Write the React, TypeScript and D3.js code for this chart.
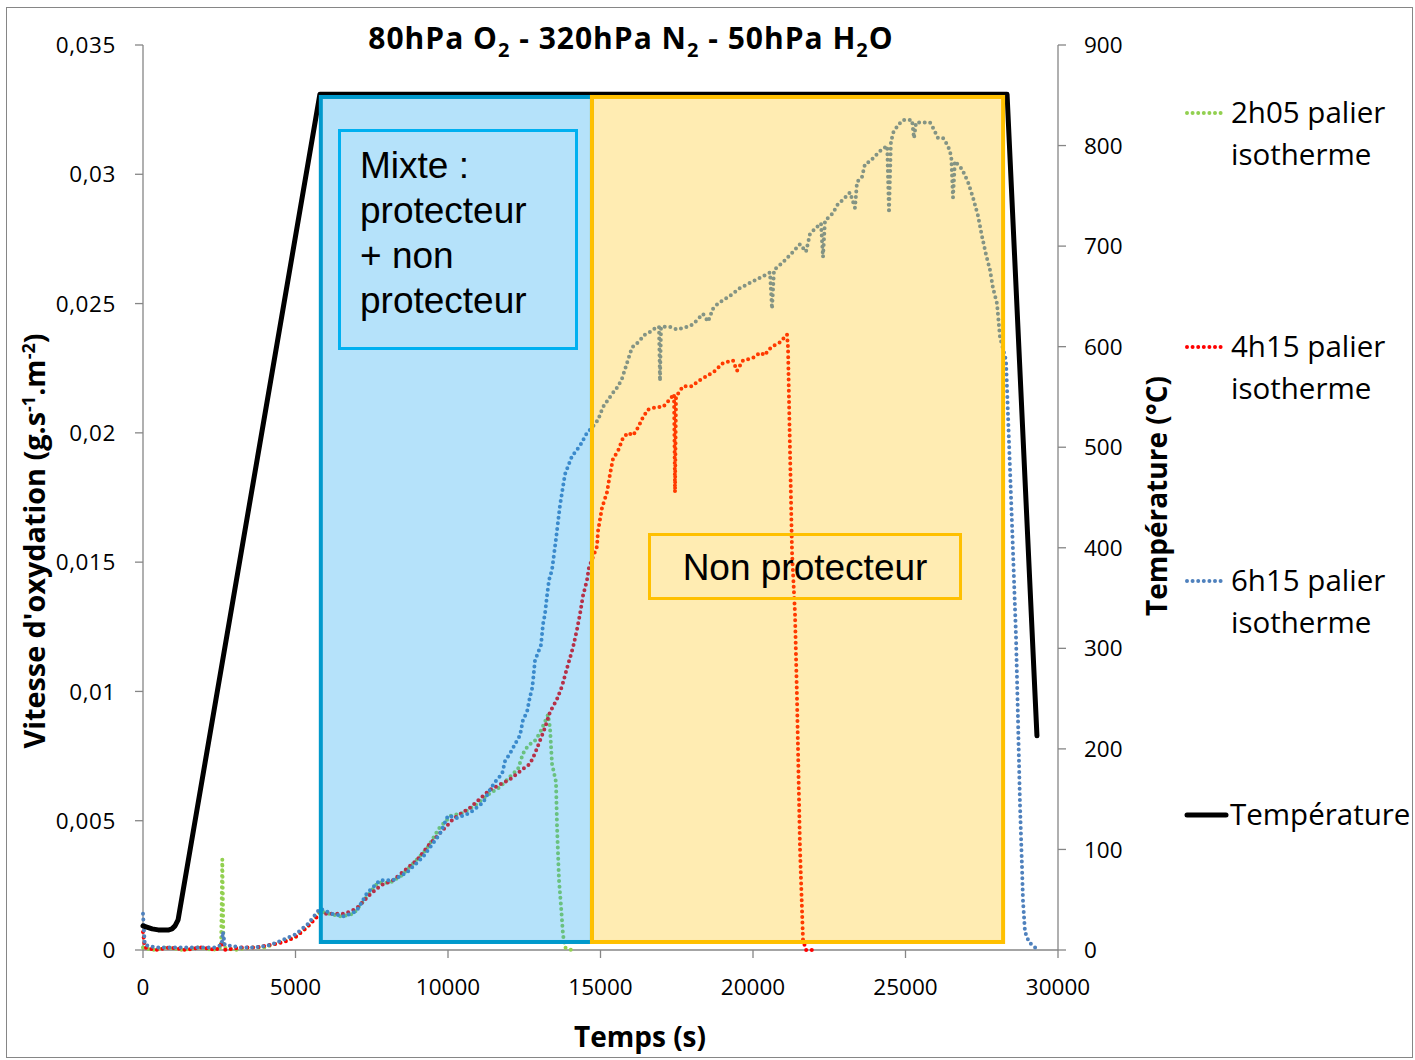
import React from 'react';
import * as d3 from 'd3';

// ---------- data ----------
const xTicks = [0, 5000, 10000, 15000, 20000, 25000, 30000];
const yLeftTicks = [0, 0.005, 0.01, 0.015, 0.02, 0.025, 0.03, 0.035];
const yRightTicks = [0, 100, 200, 300, 400, 500, 600, 700, 800, 900];

// temperature (s, °C)
const temperature: [number, number][] = [
  [0, 24], [300, 21], [500, 20], [850, 20], [950, 21], [1050, 24], [1150, 30],
  [5800, 851], [28330, 851], [29310, 213],
];

// 2h05 palier isotherme (s, g.s-1.m-2)
const serie2h05: [number, number][] = [
  [0, 0.0001], [300, 0], [800, 0.0001], [1300, 0], [1800, 0.0001], [2300, 0], [2560, 0.0001],
  [2600, 0.0035], [2640, 0.0001], [3000, 0], [3500, 0.0001], [4000, 0.0001], [4500, 0.0003],
  [5000, 0.0005], [5400, 0.0009], [5800, 0.0015], [6100, 0.0014], [6500, 0.0013], [6900, 0.0014],
  [7300, 0.002], [7700, 0.0026], [8100, 0.0026], [8500, 0.0029], [8900, 0.0034], [9300, 0.0039],
  [9700, 0.0047], [10100, 0.0052], [10500, 0.0053], [10900, 0.0056], [11300, 0.006], [11700, 0.0063],
  [12033, 0.0067], [12295, 0.007], [12459, 0.0076], [12623, 0.0079], [12852, 0.0081], [13016, 0.0084],
  [13279, 0.0091], [13344, 0.0086], [13410, 0.0072], [13541, 0.0065], [13574, 0.0048], [13639, 0.0027],
  [13705, 0.0017], [13770, 0.0006], [13836, 0.0001], [14050, 0],
];

// 4h15 palier isotherme
const serie4h15: [number, number][] = [
  [0, 0.0007], [60, 0.0001], [400, 0], [900, 0.0001], [1400, 0], [1900, 0.0001], [2400, 0],
  [2620, 0.0003], [2700, 0], [3200, 0.0001], [3700, 0.0001], [4200, 0.0002], [4600, 0.0003],
  [5000, 0.0005], [5400, 0.0009], [5800, 0.0014], [6200, 0.0014], [6600, 0.0014], [7000, 0.0016],
  [7400, 0.0021], [7800, 0.0025], [8200, 0.0027], [8600, 0.0031], [9000, 0.0035], [9400, 0.0041],
  [9800, 0.0046], [10200, 0.0051], [10721, 0.0055], [11377, 0.0062], [12033, 0.0066], [12459, 0.007],
  [12689, 0.0072], [12852, 0.0076], [13016, 0.0081], [13180, 0.0086], [13344, 0.0092], [13574, 0.0097],
  [13738, 0.0102], [13902, 0.0109], [14098, 0.0117], [14230, 0.0124], [14328, 0.013], [14426, 0.0137],
  [14557, 0.0143], [14623, 0.0148], [14885, 0.0156], [14918, 0.0162], [15049, 0.0171], [15213, 0.0177],
  [15311, 0.0184], [15410, 0.019], [15574, 0.0193], [15738, 0.0198], [15902, 0.02], [16066, 0.0199],
  [16230, 0.0202], [16393, 0.0206], [16557, 0.0209], [16852, 0.021], [17049, 0.021], [17279, 0.0213],
  [17410, 0.0215], [17443, 0.0177], [17476, 0.0214], [17705, 0.0218], [18000, 0.0218], [18197, 0.022],
  [18492, 0.0222], [18754, 0.0224], [19016, 0.0227], [19344, 0.0228], [19475, 0.0224], [19672, 0.0228],
  [20000, 0.0229], [20230, 0.0231], [20393, 0.023], [20492, 0.0232], [20721, 0.0234], [20885, 0.0235],
  [21115, 0.0238], [21148, 0.0233], [21180, 0.0213], [21213, 0.0193], [21246, 0.0174], [21279, 0.0154],
  [21377, 0.013], [21443, 0.0097], [21541, 0.0039], [21639, 0.0004], [21738, 0], [22050, 0],
];

// 6h15 palier isotherme
const serie6h15: [number, number][] = [
  [0, 0.0014], [60, 0.0002], [400, 0.0001], [900, 0.0001], [1400, 0.0001], [1900, 0.0001], [2400, 0.0001],
  [2580, 0.0002], [2620, 0.0007], [2680, 0.0002], [3200, 0.0001], [3700, 0.0001], [4200, 0.0002],
  [4600, 0.0004], [5000, 0.0006], [5400, 0.001], [5803, 0.0016], [6200, 0.0014], [6600, 0.0013],
  [7000, 0.0015], [7344, 0.0022], [7770, 0.0027], [8197, 0.0027], [8656, 0.003], [9180, 0.0036],
  [9738, 0.0045], [10000, 0.0052], [10295, 0.0051], [10721, 0.0053], [11148, 0.0057], [11377, 0.0062],
  [11607, 0.0066], [11770, 0.0068], [11869, 0.0073], [12033, 0.0076], [12262, 0.0081], [12361, 0.0083],
  [12459, 0.0089], [12590, 0.0092], [12689, 0.0098], [12754, 0.0101], [12787, 0.0104], [12852, 0.0112],
  [12951, 0.0115], [13049, 0.0118], [13115, 0.0126], [13180, 0.013], [13246, 0.0137], [13311, 0.0143],
  [13410, 0.0147], [13443, 0.015], [13541, 0.0159], [13672, 0.0172], [13836, 0.0184], [14066, 0.0191],
  [14328, 0.0195], [14557, 0.02], [14721, 0.0202], [14918, 0.0205], [15082, 0.021], [15377, 0.0215],
  [15574, 0.0218], [15705, 0.0221], [15869, 0.0227], [16033, 0.0233], [16230, 0.0235], [16459, 0.0238],
  [16623, 0.0239], [16852, 0.0241], [16918, 0.0241], [16951, 0.022], [16984, 0.0241], [17279, 0.0241],
  [17508, 0.024], [17836, 0.0241], [18033, 0.0242], [18197, 0.0244], [18361, 0.0246], [18525, 0.0243],
  [18689, 0.0248], [18852, 0.025], [19246, 0.0253], [19574, 0.0256], [19902, 0.0258], [20230, 0.026],
  [20557, 0.0262], [20623, 0.0248], [20689, 0.0263], [20984, 0.0266], [21311, 0.027], [21541, 0.0273],
  [21738, 0.027], [21869, 0.0277], [22131, 0.028], [22230, 0.0281], [22295, 0.0268], [22360, 0.0282],
  [22623, 0.0285], [22754, 0.0288], [23016, 0.0291], [23180, 0.0293], [23344, 0.0287], [23410, 0.0297],
  [23574, 0.0299], [23672, 0.0304], [23836, 0.0305], [24000, 0.0307], [24164, 0.0309], [24400, 0.0311],
  [24459, 0.0285], [24520, 0.0312], [24590, 0.0316], [24754, 0.0319], [24918, 0.0321], [25148, 0.0321],
  [25213, 0.0321], [25279, 0.0314], [25345, 0.032], [25639, 0.032], [25803, 0.032], [25902, 0.0318],
  [26066, 0.0314], [26230, 0.0314], [26393, 0.0311], [26500, 0.0307], [26557, 0.0291], [26620, 0.0305],
  [26852, 0.0302], [27049, 0.0297], [27213, 0.0291], [27377, 0.0284], [27508, 0.0276], [27639, 0.0269],
  [27770, 0.0263], [27869, 0.0256], [28000, 0.025], [28098, 0.0237], [28295, 0.0228], [28426, 0.0186],
  [28525, 0.0154], [28623, 0.0121], [28689, 0.0089], [28754, 0.0056], [28820, 0.0032], [28852, 0.0019],
  [28918, 0.0007], [29049, 0.0003], [29344, 0],
];

// shaded regimes (time bounds in s, rate bounds)
const regionMixte = { t0: 5830, t1: 14720 };
const regionNonProt = { t0: 14720, t1: 28200 };
const regionRate = { v0: 0.00031, v1: 0.03299 };

const seriesList = [
  { name: '2h05 palier', name2: 'isotherme', data: serie2h05, color: '#92d050' },
  { name: '4h15 palier', name2: 'isotherme', data: serie4h15, color: '#ff0000' },
  { name: '6h15 palier', name2: 'isotherme', data: serie6h15, color: '#4f81bd' },
];

// ---------- chart ----------
const W = 1415, H = 1060;
const AXIS = '#868686';
const TICK_FONT = "'Open Sans', sans-serif";
const BOLD_FONT = "'Open Sans', sans-serif";

export default function App() {
  const x = d3.scaleLinear().domain([0, 30000]).range([143, 1058]);
  const yL = d3.scaleLinear().domain([0, 0.035]).range([950, 45]);
  const yR = d3.scaleLinear().domain([0, 900]).range([950, 45]);

  const rateLine = d3.line<[number, number]>().x(d => x(d[0])).y(d => yL(d[1]));
  const tempLine = d3.line<[number, number]>().x(d => x(d[0])).y(d => yR(d[1]));

  const fmt = (v: number) => String(+v.toFixed(3)).replace('.', ',');

  const dot = { strokeWidth: 4, strokeDasharray: '0 5.6', strokeLinecap: 'round' as const, fill: 'none' };

  return (
    <svg width={W} height={H} style={{ position: 'absolute', left: 0, top: 0, background: '#fff' }}>
      <rect x={6.5} y={7.5} width={1406} height={1050} fill="#fff" stroke={AXIS} strokeWidth={1} />

      {/* axes */}
      <line x1={143} y1={yL(0.035)} x2={143} y2={950} stroke={AXIS} strokeWidth={1.3} />
      <line x1={1058} y1={yR(900)} x2={1058} y2={950} stroke={AXIS} strokeWidth={1.3} />
      <line x1={143} y1={950} x2={1058} y2={950} stroke={AXIS} strokeWidth={1.3} />
      {yLeftTicks.map(t => (
        <g key={'yl' + t}>
          <line x1={135} x2={143} y1={yL(t)} y2={yL(t)} stroke={AXIS} strokeWidth={1.3} />
          <text x={116} y={yL(t)} dy="0.36em" textAnchor="end" fontFamily={TICK_FONT} fontSize={22.5} letterSpacing={0.6} fill="#000">{fmt(t)}</text>
        </g>
      ))}
      {yRightTicks.map(t => (
        <g key={'yr' + t}>
          <line x1={1058} x2={1066} y1={yR(t)} y2={yR(t)} stroke={AXIS} strokeWidth={1.3} />
          <text x={1084} y={yR(t)} dy="0.36em" textAnchor="start" fontFamily={TICK_FONT} fontSize={22.5} fill="#000">{t}</text>
        </g>
      ))}
      {xTicks.map(t => (
        <g key={'x' + t}>
          <line x1={x(t)} x2={x(t)} y1={950} y2={958} stroke={AXIS} strokeWidth={1.3} />
          <text x={x(t)} y={995} textAnchor="middle" fontFamily={TICK_FONT} fontSize={22.5} fill="#000">{t}</text>
        </g>
      ))}

      {/* series */}
      {seriesList.map(s => (
        <path key={s.name + s.color} d={rateLine(s.data) || ''} stroke={s.color} {...dot} />
      ))}
      <path d={tempLine(temperature) || ''} stroke="#000" strokeWidth={5} fill="none" strokeLinejoin="round" strokeLinecap="round" />

      {/* regime overlays */}
      <rect x={x(regionMixte.t0)} y={yL(regionRate.v1)} width={x(regionMixte.t1) - x(regionMixte.t0)}
        height={yL(regionRate.v0) - yL(regionRate.v1)} fill="#0aa0ee" fillOpacity={0.3} stroke="#0099cc" strokeWidth={4} />
      <rect x={x(regionNonProt.t0)} y={yL(regionRate.v1)} width={x(regionNonProt.t1) - x(regionNonProt.t0)}
        height={yL(regionRate.v0) - yL(regionRate.v1)} fill="#ffc000" fillOpacity={0.3} stroke="#ffc000" strokeWidth={4} />

      {/* annotation boxes */}
      <rect x={339.5} y={130.5} width={237} height={218} fill="none" stroke="#00b0f0" strokeWidth={3} />
      <text fontFamily="'Liberation Sans', Arial, sans-serif" fontSize={37} fill="#000">
        <tspan x={360} y={178}>Mixte :</tspan>
        <tspan x={360} y={223}>protecteur</tspan>
        <tspan x={360} y={268}>+ non</tspan>
        <tspan x={360} y={313}>protecteur</tspan>
      </text>
      <rect x={649.5} y={534.5} width={311} height={64} fill="none" stroke="#ffc000" strokeWidth={3} />
      <text x={805} y={580} textAnchor="middle" fontFamily="'Liberation Sans', Arial, sans-serif" fontSize={37} fill="#000">Non protecteur</text>

      {/* titles */}
      <text x={631} y={49} textAnchor="middle" fontFamily={BOLD_FONT} fontWeight={700} fontSize={30} letterSpacing={1} fill="#000">
        80hPa O<tspan fontSize={20} dy={8}>2</tspan><tspan dy={-8}> - 320hPa N</tspan><tspan fontSize={20} dy={8}>2</tspan><tspan dy={-8}> - 50hPa H</tspan><tspan fontSize={20} dy={8}>2</tspan><tspan dy={-8}>O</tspan>
      </text>
      <text x={640} y={1047} textAnchor="middle" fontFamily={BOLD_FONT} fontWeight={700} fontSize={28} fill="#000">Temps (s)</text>
      <text transform="translate(45,541) rotate(-90)" textAnchor="middle" fontFamily={BOLD_FONT} fontWeight={700} fontSize={28.8} fill="#000">
        Vitesse d'oxydation (g.s<tspan fontSize={18} dy={-10}>-1</tspan><tspan dy={10}>.m</tspan><tspan fontSize={18} dy={-10}>-2</tspan><tspan dy={10}>)</tspan>
      </text>
      <text transform="translate(1167,496) rotate(-90)" textAnchor="middle" fontFamily={BOLD_FONT} fontWeight={700} fontSize={28} fill="#000">Température (°C)</text>

      {/* legend */}
      {seriesList.map((s, i) => {
        const cy = 113 + i * 234;
        return (
          <g key={'lg' + i}>
            <line x1={1187} x2={1222} y1={cy} y2={cy} stroke={s.color} {...dot} />
            <text x={1231} y={cy + 10} fontFamily={TICK_FONT} fontSize={29.5} fill="#000">{s.name}</text>
            <text x={1231} y={cy + 52} fontFamily={TICK_FONT} fontSize={29.5} fill="#000">{s.name2}</text>
          </g>
        );
      })}
      <line x1={1187} x2={1226} y1={815} y2={815} stroke="#000" strokeWidth={5} strokeLinecap="round" />
      <text x={1230} y={825} fontFamily={TICK_FONT} fontSize={29.5} fill="#000">Température</text>
    </svg>
  );
}
